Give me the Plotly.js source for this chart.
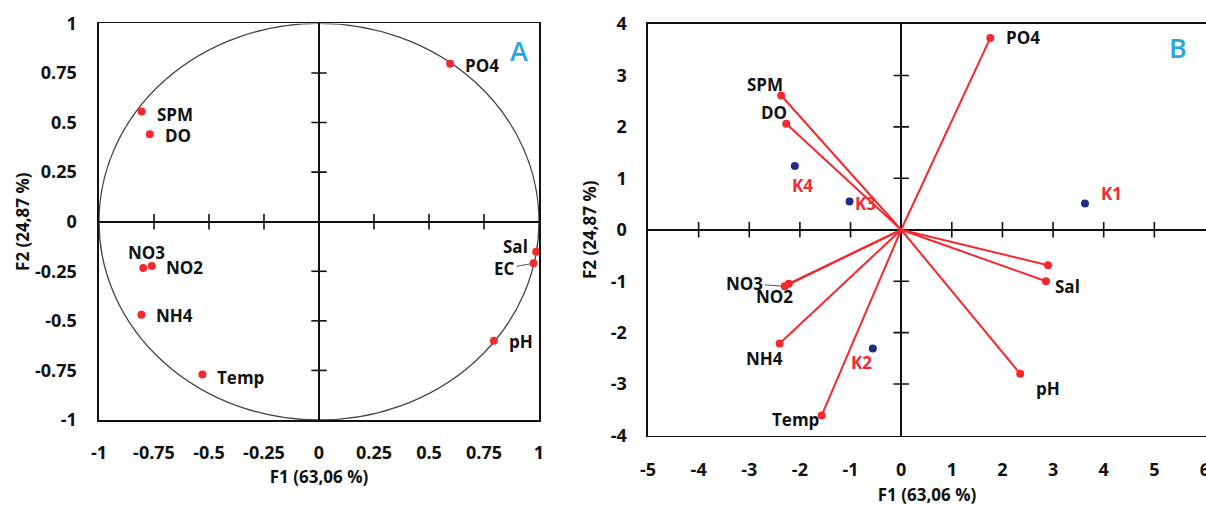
<!DOCTYPE html>
<html>
<head>
<meta charset="utf-8">
<script src="https://cdn.plot.ly/plotly-3.0.1.min.js"></script>
<style>html,body{margin:0;padding:0;background:#fff;}#chart{width:1206px;height:506px;}</style>
</head>
<body>
<div id="chart"></div>
<script>
// ---------- Data ----------
// Panel A: correlation circle (variable loadings)
const varsA = ['PO4', 'SPM', 'DO', 'NO3', 'NO2', 'NH4', 'Temp', 'Sal', 'EC', 'pH'];
const f1A = [0.596, -0.806, -0.769, -0.799, -0.760, -0.807, -0.530, 0.987, 0.975, 0.795];
const f2A = [0.797, 0.556, 0.441, -0.233, -0.223, -0.469, -0.771, -0.151, -0.210, -0.600];

// Panel B: biplot (variable vectors + sites)
const varsB = ['PO4', 'SPM', 'DO', 'NO3', 'NO2', 'NH4', 'Temp', 'Sal', 'EC', 'pH'];
const labelsB = ['PO4', 'SPM', 'DO', 'NO3', 'NO2', 'NH4', 'Temp', 'Sal', '', 'pH'];
const f1B = [1.76, -2.37, -2.27, -2.30, -2.22, -2.40, -1.57, 2.86, 2.90, 2.35];
const f2B = [3.73, 2.61, 2.06, -1.10, -1.05, -2.21, -3.61, -1.00, -0.69, -2.80];

const sites = ['K1', 'K2', 'K3', 'K4'];
const siteF1 = [3.63, -0.56, -1.02, -2.10];
const siteF2 = [0.51, -2.31, 0.55, 1.24];

// Ticks
const ticksA = [-1, -0.75, -0.5, -0.25, 0, 0.25, 0.5, 0.75, 1];
const tickTextA = ['-1', '-0.75', '-0.5', '-0.25', '0', '0.25', '0.5', '0.75', '1'];
const ticksBx = [-5, -4, -3, -2, -1, 0, 1, 2, 3, 4, 5, 6];
const tickTextBx = ['-5', '-4', '-3', '-2', '-1', '0', '1', '2', '3', '4', '5', '6'];
const ticksBy = [-4, -3, -2, -1, 0, 1, 2, 3, 4];
const tickTextBy = ['-4', '-3', '-2', '-1', '0', '1', '2', '3', '4'];

const xTitle = 'F1 (63,06 %)';
const yTitle = 'F2 (24,87 %)';

// ---------- Styles ----------
const RED = '#f5282d';
const BLUE = '#1f2d86';
const FONT = 'Open Sans, Liberation Sans, Arial, sans-serif';
const tickFont = {family: FONT, size: 18, color: '#111', weight: 700};
const labelFont = {family: FONT, size: 17, color: '#111', weight: 700};
const titleFont = {family: FONT, size: 17, color: '#111', weight: 700};

// label placement (pixel offsets from point): [xanchor, xshift, yshift, leaderAx, leaderAy]
const placeA = {
  PO4: ['left', 13, -2], SPM: ['left', 13, -3], DO: ['left', 13, -1],
  NO3: ['center', 3, 15], NO2: ['left', 12, -2], NH4: ['left', 13, -1],
  Temp: ['left', 13, -3], Sal: ['right', -6, 5], EC: ['lead', 0, 0, -29, 5], pH: ['left', 13, -1]
};
const placeB = {
  PO4: ['left', 14, 0], SPM: ['center', -16, 11], DO: ['center', -12, 11],
  NO3: ['lead', 0, 0, -40, -3], NO2: ['center', -14, -13], NH4: ['center', -15, -15],
  Temp: ['right', -1, -4], Sal: ['left', 7, -5], EC: ['left', 0, 0], pH: ['center', 28, -15]
};
const placeSites = {K1: ['center', 27, 10], K2: ['center', -11, -14], K3: ['left', 3, -2], K4: ['center', 8, -20]};

// ---------- Traces ----------
const traces = [];

// cross tick marks on zero lines (from tick arrays)
function crossTicks(vals, xa, ya, horizontal) {
  const inner = vals.filter(v => v !== 0 && v !== vals[0] && v !== vals[vals.length - 1]);
  return {
    type: 'scatter', mode: 'markers', xaxis: xa, yaxis: ya, hoverinfo: 'skip', showlegend: false,
    x: horizontal ? inner : inner.map(() => 0),
    y: horizontal ? inner.map(() => 0) : inner,
    marker: {symbol: horizontal ? 'line-ns' : 'line-ew', size: 11, line: {color: '#111', width: 1.6}}
  };
}
traces.push(crossTicks(ticksA, 'x', 'y', true));
traces.push(crossTicks(ticksA, 'x', 'y', false));
traces.push(crossTicks(ticksBx, 'x2', 'y2', true));
traces.push(crossTicks(ticksBy, 'x2', 'y2', false));

// Panel A points
traces.push({
  type: 'scatter', mode: 'markers', x: f1A, y: f2A, text: varsA, xaxis: 'x', yaxis: 'y',
  marker: {color: RED, size: 8}, showlegend: false, hoverinfo: 'text'
});

// Panel B vectors
const vx = [], vy = [];
f1B.forEach((v, i) => { vx.push(0, v, null); vy.push(0, f2B[i], null); });
traces.push({
  type: 'scatter', mode: 'lines', x: vx, y: vy, xaxis: 'x2', yaxis: 'y2',
  line: {color: RED, width: 2}, showlegend: false, hoverinfo: 'skip'
});
traces.push({
  type: 'scatter', mode: 'markers', x: f1B, y: f2B, text: varsB, xaxis: 'x2', yaxis: 'y2',
  marker: {color: RED, size: 8}, showlegend: false, hoverinfo: 'text'
});
traces.push({
  type: 'scatter', mode: 'markers', x: siteF1, y: siteF2, text: sites, xaxis: 'x2', yaxis: 'y2',
  marker: {color: BLUE, size: 8}, showlegend: false, hoverinfo: 'text'
});

// ---------- Annotations ----------
const annotations = [];
function addLabel(x, y, text, p, xr, yr, font) {
  if (!text) return;
  if (p[0] === 'lead') {
    annotations.push({x, y, xref: xr, yref: yr, text, font, showarrow: true, arrowhead: 0,
      arrowwidth: 1, arrowcolor: '#555', ax: p[3], ay: p[4], standoff: 4});
  } else {
    annotations.push({x, y, xref: xr, yref: yr, text, font, showarrow: false,
      xanchor: p[0], yanchor: 'middle', xshift: p[1], yshift: p[2]});
  }
}
varsA.forEach((n, i) => addLabel(f1A[i], f2A[i], n, placeA[n], 'x', 'y', labelFont));
varsB.forEach((n, i) => addLabel(f1B[i], f2B[i], labelsB[i], placeB[n], 'x2', 'y2', labelFont));
sites.forEach((n, i) => addLabel(siteF1[i], siteF2[i], n, placeSites[n], 'x2', 'y2',
  {family: FONT, size: 17, color: RED, weight: 700}));

// Panel letters
annotations.push({xref: 'paper', yref: 'paper', x: 519 / 1206, y: 1 - 51 / 506, text: 'A', showarrow: false,
  xanchor: 'center', yanchor: 'middle', font: {family: FONT, size: 27, color: '#2aa6df', weight: 600}});
annotations.push({xref: 'paper', yref: 'paper', x: 1178 / 1206, y: 1 - 47 / 506, text: 'B', showarrow: false,
  xanchor: 'center', yanchor: 'middle', font: {family: FONT, size: 27, color: '#2aa6df', weight: 600}});

// ---------- Layout ----------
function axis(extra) {
  return Object.assign({
    showgrid: false, zeroline: true, zerolinecolor: '#111', zerolinewidth: 1.6,
    showline: true, mirror: true, linecolor: '#111', linewidth: 1.6,
    ticks: 'outside', tickcolor: 'rgba(0,0,0,0)', tickmode: 'array',
    tickfont: tickFont, fixedrange: true, automargin: false, ticklabeloverflow: 'allow'
  }, extra);
}

const layout = {
  width: 1206, height: 506,
  margin: {l: 0, r: 0, t: 0, b: 0},
  paper_bgcolor: '#fff', plot_bgcolor: '#fff',
  showlegend: false,
  xaxis: axis({domain: [99 / 1206, 539 / 1206], range: [-1, 1], anchor: 'y',
    tickvals: ticksA, ticktext: tickTextA, ticklen: 16,
    title: {text: xTitle, font: titleFont, standoff: 8}}),
  yaxis: axis({domain: [1 - 420 / 506, 1 - 23.4 / 506], range: [-1, 1], anchor: 'x',
    tickvals: ticksA, ticktext: tickTextA, ticklen: 17,
    title: {text: yTitle, font: titleFont, standoff: 1}}),
  xaxis2: axis({domain: [648 / 1206, 1], range: [-5, 6.02], anchor: 'y2',
    tickvals: ticksBx, ticktext: tickTextBx, ticklen: 17,
    title: {text: xTitle, font: titleFont, standoff: 12}}),
  yaxis2: axis({domain: [1 - 435.5 / 506, 1 - 24 / 506], range: [-4, 4], anchor: 'x2',
    tickvals: ticksBy, ticktext: tickTextBy, ticklen: 16,
    title: {text: yTitle, font: titleFont, standoff: 10}}),
  shapes: [{type: 'circle', xref: 'x', yref: 'y', x0: -1, y0: -1, x1: 1, y1: 1,
    line: {color: '#444', width: 1.3}, layer: 'below'}],
  annotations: annotations
};

Plotly.newPlot('chart', traces, layout, {displayModeBar: false, staticPlot: true});
</script>
</body>
</html>
